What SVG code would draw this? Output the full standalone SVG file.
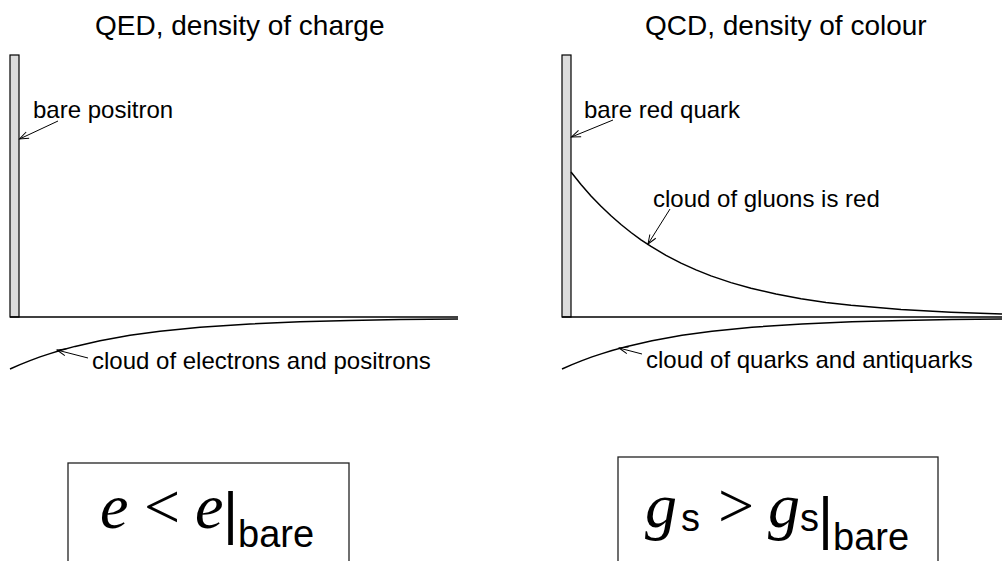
<svg xmlns="http://www.w3.org/2000/svg" width="1002" height="561" viewBox="0 0 1002 561">
<style>
.t{font-family:"Liberation Sans",Arial,sans-serif;font-size:28px;fill:#000}
.l{font-family:"Liberation Sans",Arial,sans-serif;font-size:24px;fill:#000}
.bar{fill:#dcdcdc;stroke:#000;stroke-width:1.2}
.ax{stroke:#000;stroke-width:1.5;fill:none}
.cv{stroke:#000;stroke-width:1.5;fill:none;stroke-linejoin:round}
.ar{stroke:#000;stroke-width:1;fill:none;marker-end:url(#oh)}
.box{fill:none;stroke:#222;stroke-width:1.3}
.mi{font-family:"Liberation Serif","Times New Roman",serif;font-style:italic;font-size:64px;fill:#000}
.mo{font-family:"Liberation Serif","Times New Roman",serif;font-size:64px;fill:#000}
.ms{font-family:"Liberation Sans",Arial,sans-serif;font-size:38px;fill:#000}
.vb{font-family:"Liberation Sans",Arial,sans-serif;font-size:58px;fill:#000}
</style>
<defs>
<marker id="oh" markerUnits="userSpaceOnUse" markerWidth="12" markerHeight="10" refX="0" refY="0" viewBox="-10 -5 12 10" orient="auto" overflow="visible">
<path d="M-9,-3.5 L0,0 L-9,3.5" fill="none" stroke="#000" stroke-width="1"/>
</marker>
</defs>
<rect width="1002" height="561" fill="#fff"/>

<g id="qed-panel">
<text class="t" x="95" y="35">QED, density of charge</text>
<rect class="bar" x="10" y="55" width="9" height="262"/>
<line class="ax" x1="10" y1="317" x2="458" y2="317"/>
<path class="cv" d="M10,369 L20,364.6 L30,360.6 L40,356.9 L50,353.6 L60,350.5 L75,346.4 L100,340.7 L130,335.3 L160,331.2 L200,327.2 L250,323.9 L300,321.75 L350,320.4 L400,319.5 L458,318.9"/>
</g>

<g id="qcd-panel">
<text class="t" x="645" y="35">QCD, density of colour</text>
<rect class="bar" x="562" y="55" width="9" height="262"/>
<line class="ax" x1="562" y1="317" x2="1002" y2="317"/>
<path class="cv" d="M571,172 L581,184.5 L591,195.9 L601,206.3 L611,215.8 L621,224.5 L631,232.5 L641,239.8 L651,246.4 L666,255.3 L681,263.1 L696,269.9 L711,275.9 L731,282.6 L751,288.3 L776,294.1 L801,298.7 L826,302.4 L851,305.3 L901,309.6 L951,312.3 L1002,314"/>
<path class="cv" d="M562,369 L572,364.6 L582,360.6 L592,356.9 L602,353.6 L612,350.5 L627,346.4 L652,340.7 L682,335.3 L712,331.2 L752,327.2 L802,323.9 L852,321.75 L902,320.4 L952,319.5 L1002,318.9"/>
</g>

<g id="label-bare-positron"><text class="l" x="33" y="118">bare positron</text></g>
<g id="label-electrons"><text class="l" x="92" y="369">cloud of electrons and positrons</text></g>
<g id="label-bare-quark"><text class="l" x="584" y="118">bare red quark</text></g>
<g id="label-gluons"><text class="l" x="653" y="207">cloud of gluons is red</text></g>
<g id="label-quarks"><text class="l" x="646" y="368">cloud of quarks and antiquarks</text></g>

<g id="connectors">
<line class="ar" x1="58" y1="121" x2="19.5" y2="139"/>
<line class="ar" x1="88" y1="358" x2="57" y2="350"/>
<line class="ar" x1="613" y1="120" x2="571.5" y2="137"/>
<line class="ar" x1="670" y1="209" x2="648" y2="244"/>
<line class="ar" x1="642" y1="354" x2="619" y2="348"/>
</g>

<g id="formula-qed">
<rect class="box" x="68" y="463" width="281" height="130"/>
<text class="mi" x="100" y="528">e</text>
<text class="mo" x="144" y="528">&lt;</text>
<text class="mi" x="195" y="528">e</text>
<text class="vb" x="223" y="533">|</text>
<text class="ms" x="238" y="547">bare</text>
</g>

<g id="formula-qcd">
<rect class="box" x="618" y="457" width="320" height="130"/>
<text class="mi" x="645" y="527">g</text>
<text class="ms" x="681" y="531">s</text>
<text class="mo" x="718" y="527">&gt;</text>
<text class="mi" x="768" y="527">g</text>
<text class="ms" x="800" y="531">s</text>
<text class="vb" x="818" y="538">|</text>
<text class="ms" x="833" y="550">bare</text>
</g>
</svg>
